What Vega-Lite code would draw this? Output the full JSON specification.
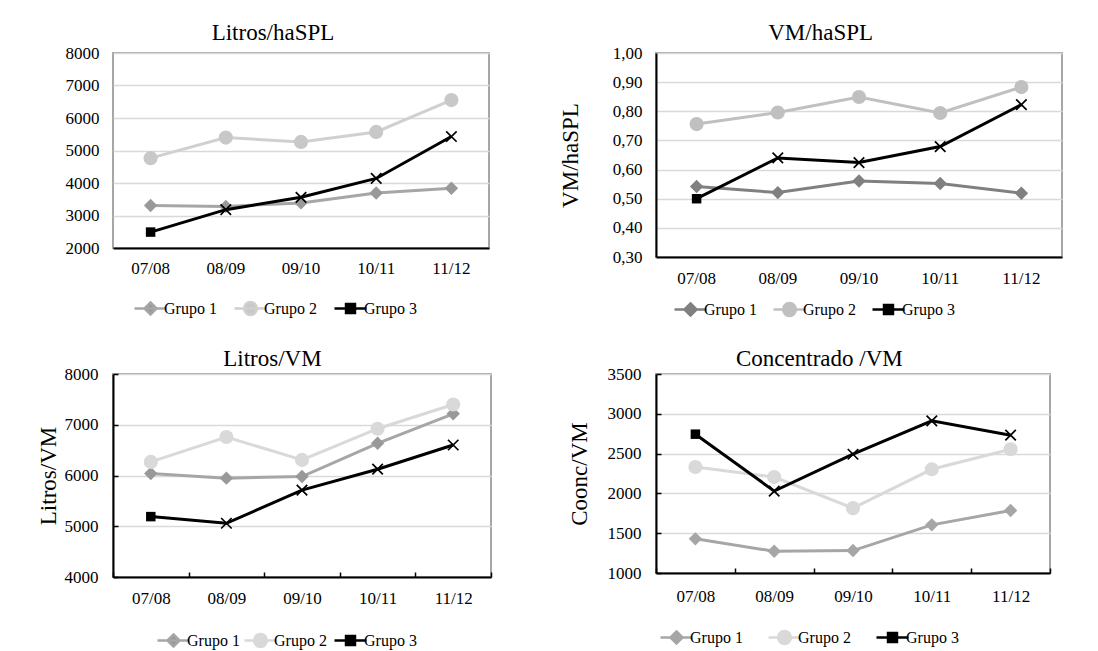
{
  "$schema": "https://vega.github.io/schema/vega-lite/v6.json",
  "background": "white",
  "padding": {"left": 36, "top": 21, "right": 5, "bottom": 5},
  "datasets": {
    "p1": [
      {"year": "07/08", "group": "Grupo 1", "value": 3306},
      {"year": "08/09", "group": "Grupo 1", "value": 3280},
      {"year": "09/10", "group": "Grupo 1", "value": 3388},
      {"year": "10/11", "group": "Grupo 1", "value": 3694},
      {"year": "11/12", "group": "Grupo 1", "value": 3837},
      {"year": "07/08", "group": "Grupo 2", "value": 4765},
      {"year": "08/09", "group": "Grupo 2", "value": 5398},
      {"year": "09/10", "group": "Grupo 2", "value": 5265},
      {"year": "10/11", "group": "Grupo 2", "value": 5571},
      {"year": "11/12", "group": "Grupo 2", "value": 6551},
      {"year": "07/08", "group": "Grupo 3", "value": 2490},
      {"year": "08/09", "group": "Grupo 3", "value": 3180},
      {"year": "09/10", "group": "Grupo 3", "value": 3560},
      {"year": "10/11", "group": "Grupo 3", "value": 4140},
      {"year": "11/12", "group": "Grupo 3", "value": 5430}
    ],
    "p2": [
      {"year": "07/08", "group": "Grupo 1", "value": 0.542},
      {"year": "08/09", "group": "Grupo 1", "value": 0.521},
      {"year": "09/10", "group": "Grupo 1", "value": 0.561},
      {"year": "10/11", "group": "Grupo 1", "value": 0.552},
      {"year": "11/12", "group": "Grupo 1", "value": 0.519},
      {"year": "07/08", "group": "Grupo 2", "value": 0.756},
      {"year": "08/09", "group": "Grupo 2", "value": 0.796},
      {"year": "09/10", "group": "Grupo 2", "value": 0.849},
      {"year": "10/11", "group": "Grupo 2", "value": 0.794},
      {"year": "11/12", "group": "Grupo 2", "value": 0.883},
      {"year": "07/08", "group": "Grupo 3", "value": 0.500},
      {"year": "08/09", "group": "Grupo 3", "value": 0.640},
      {"year": "09/10", "group": "Grupo 3", "value": 0.624},
      {"year": "10/11", "group": "Grupo 3", "value": 0.679},
      {"year": "11/12", "group": "Grupo 3", "value": 0.823}
    ],
    "p3": [
      {"year": "07/08", "group": "Grupo 1", "value": 6039},
      {"year": "08/09", "group": "Grupo 1", "value": 5948},
      {"year": "09/10", "group": "Grupo 1", "value": 5980},
      {"year": "10/11", "group": "Grupo 1", "value": 6634},
      {"year": "11/12", "group": "Grupo 1", "value": 7216},
      {"year": "07/08", "group": "Grupo 2", "value": 6268},
      {"year": "08/09", "group": "Grupo 2", "value": 6758},
      {"year": "09/10", "group": "Grupo 2", "value": 6307},
      {"year": "10/11", "group": "Grupo 2", "value": 6922},
      {"year": "11/12", "group": "Grupo 2", "value": 7399},
      {"year": "07/08", "group": "Grupo 3", "value": 5190},
      {"year": "08/09", "group": "Grupo 3", "value": 5059},
      {"year": "09/10", "group": "Grupo 3", "value": 5712},
      {"year": "10/11", "group": "Grupo 3", "value": 6124},
      {"year": "11/12", "group": "Grupo 3", "value": 6601}
    ],
    "p4": [
      {"year": "07/08", "group": "Grupo 1", "value": 1429},
      {"year": "08/09", "group": "Grupo 1", "value": 1273},
      {"year": "09/10", "group": "Grupo 1", "value": 1282},
      {"year": "10/11", "group": "Grupo 1", "value": 1605},
      {"year": "11/12", "group": "Grupo 1", "value": 1786},
      {"year": "07/08", "group": "Grupo 2", "value": 2332},
      {"year": "08/09", "group": "Grupo 2", "value": 2206},
      {"year": "09/10", "group": "Grupo 2", "value": 1815},
      {"year": "10/11", "group": "Grupo 2", "value": 2303},
      {"year": "11/12", "group": "Grupo 2", "value": 2555},
      {"year": "07/08", "group": "Grupo 3", "value": 2744},
      {"year": "08/09", "group": "Grupo 3", "value": 2029},
      {"year": "09/10", "group": "Grupo 3", "value": 2492},
      {"year": "10/11", "group": "Grupo 3", "value": 2912},
      {"year": "11/12", "group": "Grupo 3", "value": 2731}
    ]
  },
  "columns": 2,
  "spacing": {"row": 117, "column": 165},
  "bounds": "flush",
  "align": "each",
  "resolve": {"scale": {"color": "independent", "x": "independent", "y": "independent"}, "legend": {"color": "independent"}, "axis": {"x": "independent", "y": "independent"}},
  "concat": [
    {
      "width": 376, "height": 195,
      "title": {"text": "Litros/haSPL", "offset": -1, "dx": -4},
      "data": {"name": "p1"},
      "resolve": {"scale": {"color": "independent"}, "legend": {"color": "independent"}},
      "encoding": {
        "x": {"field": "year", "type": "ordinal", "scale": {"type": "band", "paddingInner": 0, "paddingOuter": 0},
              "axis": {"title": null, "ticks": false, "labelAngle": 0, "labelPadding": 12, "grid": false}},
        "y": {"field": "value", "type": "quantitative", "scale": {"domain": [2000, 8000], "nice": false, "zero": false},
              "axis": {"title": null, "values": [2000, 3000, 4000, 5000, 6000, 7000, 8000], "format": "d", "ticks": false, "domain": false, "labelPadding": 14, "grid": true}}
      },
      "layer": [
        {"transform": [{"filter": "datum.group === 'Grupo 1'"}], "mark": {"type": "line", "strokeWidth": 3},
         "encoding": {"color": {"field": "group", "type": "nominal", "scale": {"range": ["#a6a6a6"]},
           "legend": {"orient": "none", "legendX": 20, "legendY": 238, "title": null, "padding": 0, "labelFont": "Liberation Serif", "labelFontSize": 16, "labelColor": "#000000", "labelOffset": -4, "symbolSize": 1024, "symbolStrokeWidth": 2.5, "symbolType": "M-1,0H1M0,-0.38L0.38,0L0,0.38L-0.38,0Z", "symbolFillColor": "#999999", "symbolStrokeColor": "#a6a6a6"}}}},
        {"transform": [{"filter": "datum.group === 'Grupo 1'"}], "mark": {"type": "point", "shape": "diamond", "filled": true, "size": 180, "color": "#999999", "opacity": 1}},
        {"transform": [{"filter": "datum.group === 'Grupo 2'"}], "mark": {"type": "line", "strokeWidth": 3},
         "encoding": {"color": {"field": "group", "type": "nominal", "scale": {"range": ["#d0d0d0"]},
           "legend": {"orient": "none", "legendX": 120, "legendY": 238, "title": null, "padding": 0, "labelFont": "Liberation Serif", "labelFontSize": 16, "labelColor": "#000000", "labelOffset": -4, "symbolSize": 1024, "symbolStrokeWidth": 2.5, "symbolType": "M-1,0H1M-0.4,0A0.4,0.4,0,1,0,0.4,0A0.4,0.4,0,1,0,-0.4,0Z", "symbolFillColor": "#c8c8c8", "symbolStrokeColor": "#d0d0d0"}}}},
        {"transform": [{"filter": "datum.group === 'Grupo 2'"}], "mark": {"type": "point", "shape": "circle", "filled": true, "size": 200, "color": "#c8c8c8", "opacity": 1}},
        {"transform": [{"filter": "datum.group === 'Grupo 3'"}], "mark": {"type": "line", "strokeWidth": 3},
         "encoding": {"color": {"field": "group", "type": "nominal", "scale": {"range": ["#000000"]},
           "legend": {"orient": "none", "legendX": 220, "legendY": 238, "title": null, "padding": 0, "labelFont": "Liberation Serif", "labelFontSize": 16, "labelColor": "#000000", "labelOffset": -4, "symbolSize": 1024, "symbolStrokeWidth": 2.5, "symbolType": "M-1,0H1M-0.28,-0.28H0.28V0.28H-0.28Z", "symbolFillColor": "#000000", "symbolStrokeColor": "#000000"}}}},
        {"transform": [{"filter": "datum.group === 'Grupo 3' && datum.year !== '07/08'"}], "mark": {"type": "point", "shape": "M-1,-1L1,1M-1,1L1,-1", "filled": false, "stroke": "#000000", "strokeWidth": 1.7, "size": 110, "opacity": 1}},
        {"transform": [{"filter": "datum.group === 'Grupo 3' && datum.year === '07/08'"}], "mark": {"type": "point", "shape": "square", "filled": true, "size": 90, "color": "#000000", "opacity": 1}}
      ]
    },
    {
      "width": 406, "height": 204,
      "title": {"text": "VM/haSPL", "offset": -1, "dx": 10},
      "data": {"name": "p2"},
      "resolve": {"scale": {"color": "independent"}, "legend": {"color": "independent"}},
      "encoding": {
        "x": {"field": "year", "type": "ordinal", "scale": {"type": "band", "paddingInner": 0, "paddingOuter": 0},
              "axis": {"title": null, "ticks": false, "labelAngle": 0, "labelPadding": 13, "grid": false}},
        "y": {"field": "value", "type": "quantitative", "scale": {"domain": [0.3, 1.0], "nice": false, "zero": false},
              "axis": {"title": "VM/haSPL", "titlePadding": 30, "values": [0.3, 0.4, 0.5, 0.6, 0.7, 0.8, 0.9, 1.0], "labelExpr": "replace(format(datum.value, '.2f'), '.', ',')", "ticks": false, "domain": true, "labelPadding": 14, "grid": true}}
      },
      "layer": [
        {"transform": [{"filter": "datum.group === 'Grupo 1'"}], "mark": {"type": "line", "strokeWidth": 3},
         "encoding": {"color": {"field": "group", "type": "nominal", "scale": {"range": ["#808080"]},
           "legend": {"orient": "none", "legendX": 17, "legendY": 239, "title": null, "padding": 0, "labelFont": "Liberation Serif", "labelFontSize": 16, "labelColor": "#000000", "labelOffset": -4, "symbolSize": 1024, "symbolStrokeWidth": 2.5, "symbolType": "M-1,0H1M0,-0.38L0.38,0L0,0.38L-0.38,0Z", "symbolFillColor": "#808080", "symbolStrokeColor": "#808080"}}}},
        {"transform": [{"filter": "datum.group === 'Grupo 1'"}], "mark": {"type": "point", "shape": "diamond", "filled": true, "size": 180, "color": "#808080", "opacity": 1}},
        {"transform": [{"filter": "datum.group === 'Grupo 2'"}], "mark": {"type": "line", "strokeWidth": 3},
         "encoding": {"color": {"field": "group", "type": "nominal", "scale": {"range": ["#c0c0c0"]},
           "legend": {"orient": "none", "legendX": 116, "legendY": 239, "title": null, "padding": 0, "labelFont": "Liberation Serif", "labelFontSize": 16, "labelColor": "#000000", "labelOffset": -4, "symbolSize": 1024, "symbolStrokeWidth": 2.5, "symbolType": "M-1,0H1M-0.4,0A0.4,0.4,0,1,0,0.4,0A0.4,0.4,0,1,0,-0.4,0Z", "symbolFillColor": "#c0c0c0", "symbolStrokeColor": "#c0c0c0"}}}},
        {"transform": [{"filter": "datum.group === 'Grupo 2'"}], "mark": {"type": "point", "shape": "circle", "filled": true, "size": 200, "color": "#c0c0c0", "opacity": 1}},
        {"transform": [{"filter": "datum.group === 'Grupo 3'"}], "mark": {"type": "line", "strokeWidth": 3},
         "encoding": {"color": {"field": "group", "type": "nominal", "scale": {"range": ["#000000"]},
           "legend": {"orient": "none", "legendX": 215, "legendY": 239, "title": null, "padding": 0, "labelFont": "Liberation Serif", "labelFontSize": 16, "labelColor": "#000000", "labelOffset": -4, "symbolSize": 1024, "symbolStrokeWidth": 2.5, "symbolType": "M-1,0H1M-0.28,-0.28H0.28V0.28H-0.28Z", "symbolFillColor": "#000000", "symbolStrokeColor": "#000000"}}}},
        {"transform": [{"filter": "datum.group === 'Grupo 3' && datum.year !== '07/08'"}], "mark": {"type": "point", "shape": "M-1,-1L1,1M-1,1L1,-1", "filled": false, "stroke": "#000000", "strokeWidth": 1.7, "size": 110, "opacity": 1}},
        {"transform": [{"filter": "datum.group === 'Grupo 3' && datum.year === '07/08'"}], "mark": {"type": "point", "shape": "square", "filled": true, "size": 90, "color": "#000000", "opacity": 1}}
      ]
    },
    {
      "width": 378, "height": 203,
      "title": {"text": "Litros/VM", "offset": -6, "dx": 8},
      "data": {"name": "p3"},
      "resolve": {"scale": {"color": "independent"}, "legend": {"color": "independent"}},
      "encoding": {
        "x": {"field": "year", "type": "ordinal", "scale": {"type": "band", "paddingInner": 0, "paddingOuter": 0},
              "axis": {"title": null, "ticks": true, "tickBand": "extent", "tickSize": -5, "tickWidth": 1.5, "tickColor": "#000000", "labelAngle": 0, "labelPadding": 18, "grid": false}},
        "y": {"field": "value", "type": "quantitative", "scale": {"domain": [4000, 8000], "nice": false, "zero": false},
              "axis": {"title": "Litros/VM", "titlePadding": 4, "values": [4000, 5000, 6000, 7000, 8000], "format": "d", "ticks": true, "tickSize": -5, "tickWidth": 1.5, "tickColor": "#000000", "domain": true, "labelPadding": 20, "grid": true}}
      },
      "layer": [
        {"transform": [{"filter": "datum.group === 'Grupo 1'"}], "mark": {"type": "line", "strokeWidth": 3},
         "encoding": {"color": {"field": "group", "type": "nominal", "scale": {"range": ["#a6a6a6"]},
           "legend": {"orient": "none", "legendX": 43, "legendY": 249, "title": null, "padding": 0, "labelFont": "Liberation Serif", "labelFontSize": 16, "labelColor": "#000000", "labelOffset": -4, "symbolSize": 1024, "symbolStrokeWidth": 2.5, "symbolType": "M-1,0H1M0,-0.38L0.38,0L0,0.38L-0.38,0Z", "symbolFillColor": "#999999", "symbolStrokeColor": "#a6a6a6"}}}},
        {"transform": [{"filter": "datum.group === 'Grupo 1'"}], "mark": {"type": "point", "shape": "diamond", "filled": true, "size": 180, "color": "#999999", "opacity": 1}},
        {"transform": [{"filter": "datum.group === 'Grupo 2'"}], "mark": {"type": "line", "strokeWidth": 3},
         "encoding": {"color": {"field": "group", "type": "nominal", "scale": {"range": ["#d9d9d9"]},
           "legend": {"orient": "none", "legendX": 130, "legendY": 249, "title": null, "padding": 0, "labelFont": "Liberation Serif", "labelFontSize": 16, "labelColor": "#000000", "labelOffset": -4, "symbolSize": 1024, "symbolStrokeWidth": 2.5, "symbolType": "M-1,0H1M-0.4,0A0.4,0.4,0,1,0,0.4,0A0.4,0.4,0,1,0,-0.4,0Z", "symbolFillColor": "#d9d9d9", "symbolStrokeColor": "#d9d9d9"}}}},
        {"transform": [{"filter": "datum.group === 'Grupo 2'"}], "mark": {"type": "point", "shape": "circle", "filled": true, "size": 200, "color": "#d9d9d9", "opacity": 1}},
        {"transform": [{"filter": "datum.group === 'Grupo 3'"}], "mark": {"type": "line", "strokeWidth": 3},
         "encoding": {"color": {"field": "group", "type": "nominal", "scale": {"range": ["#000000"]},
           "legend": {"orient": "none", "legendX": 220, "legendY": 249, "title": null, "padding": 0, "labelFont": "Liberation Serif", "labelFontSize": 16, "labelColor": "#000000", "labelOffset": -4, "symbolSize": 1024, "symbolStrokeWidth": 2.5, "symbolType": "M-1,0H1M-0.28,-0.28H0.28V0.28H-0.28Z", "symbolFillColor": "#000000", "symbolStrokeColor": "#000000"}}}},
        {"transform": [{"filter": "datum.group === 'Grupo 3' && datum.year !== '07/08'"}], "mark": {"type": "point", "shape": "M-1,-1L1,1M-1,1L1,-1", "filled": false, "stroke": "#000000", "strokeWidth": 1.7, "size": 110, "opacity": 1}},
        {"transform": [{"filter": "datum.group === 'Grupo 3' && datum.year === '07/08'"}], "mark": {"type": "point", "shape": "square", "filled": true, "size": 90, "color": "#000000", "opacity": 1}}
      ]
    },
    {
      "width": 394, "height": 199,
      "title": {"text": "Concentrado /VM", "offset": -6, "dx": 10},
      "data": {"name": "p4"},
      "resolve": {"scale": {"color": "independent"}, "legend": {"color": "independent"}},
      "encoding": {
        "x": {"field": "year", "type": "ordinal", "scale": {"type": "band", "paddingInner": 0, "paddingOuter": 0},
              "axis": {"title": null, "ticks": true, "tickBand": "extent", "tickSize": -5, "tickWidth": 1.5, "tickColor": "#000000", "labelAngle": 0, "labelPadding": 20, "grid": false}},
        "y": {"field": "value", "type": "quantitative", "scale": {"domain": [1000, 3500], "nice": false, "zero": false},
              "axis": {"title": "Coonc/VM", "titlePadding": 16, "values": [1000, 1500, 2000, 2500, 3000, 3500], "format": "d", "ticks": true, "tickSize": -5, "tickWidth": 1.5, "tickColor": "#000000", "domain": true, "labelPadding": 20, "grid": true}}
      },
      "layer": [
        {"transform": [{"filter": "datum.group === 'Grupo 1'"}], "mark": {"type": "line", "strokeWidth": 3},
         "encoding": {"color": {"field": "group", "type": "nominal", "scale": {"range": ["#a6a6a6"]},
           "legend": {"orient": "none", "legendX": 3, "legendY": 246, "title": null, "padding": 0, "labelFont": "Liberation Serif", "labelFontSize": 16, "labelColor": "#000000", "labelOffset": -4, "symbolSize": 1024, "symbolStrokeWidth": 2.5, "symbolType": "M-1,0H1M0,-0.38L0.38,0L0,0.38L-0.38,0Z", "symbolFillColor": "#a6a6a6", "symbolStrokeColor": "#a6a6a6"}}}},
        {"transform": [{"filter": "datum.group === 'Grupo 1'"}], "mark": {"type": "point", "shape": "diamond", "filled": true, "size": 180, "color": "#a6a6a6", "opacity": 1}},
        {"transform": [{"filter": "datum.group === 'Grupo 2'"}], "mark": {"type": "line", "strokeWidth": 3},
         "encoding": {"color": {"field": "group", "type": "nominal", "scale": {"range": ["#d9d9d9"]},
           "legend": {"orient": "none", "legendX": 111, "legendY": 246, "title": null, "padding": 0, "labelFont": "Liberation Serif", "labelFontSize": 16, "labelColor": "#000000", "labelOffset": -4, "symbolSize": 1024, "symbolStrokeWidth": 2.5, "symbolType": "M-1,0H1M-0.4,0A0.4,0.4,0,1,0,0.4,0A0.4,0.4,0,1,0,-0.4,0Z", "symbolFillColor": "#d9d9d9", "symbolStrokeColor": "#d9d9d9"}}}},
        {"transform": [{"filter": "datum.group === 'Grupo 2'"}], "mark": {"type": "point", "shape": "circle", "filled": true, "size": 200, "color": "#d9d9d9", "opacity": 1}},
        {"transform": [{"filter": "datum.group === 'Grupo 3'"}], "mark": {"type": "line", "strokeWidth": 3},
         "encoding": {"color": {"field": "group", "type": "nominal", "scale": {"range": ["#000000"]},
           "legend": {"orient": "none", "legendX": 219, "legendY": 246, "title": null, "padding": 0, "labelFont": "Liberation Serif", "labelFontSize": 16, "labelColor": "#000000", "labelOffset": -4, "symbolSize": 1024, "symbolStrokeWidth": 2.5, "symbolType": "M-1,0H1M-0.28,-0.28H0.28V0.28H-0.28Z", "symbolFillColor": "#000000", "symbolStrokeColor": "#000000"}}}},
        {"transform": [{"filter": "datum.group === 'Grupo 3' && datum.year !== '07/08'"}], "mark": {"type": "point", "shape": "M-1,-1L1,1M-1,1L1,-1", "filled": false, "stroke": "#000000", "strokeWidth": 1.7, "size": 110, "opacity": 1}},
        {"transform": [{"filter": "datum.group === 'Grupo 3' && datum.year === '07/08'"}], "mark": {"type": "point", "shape": "square", "filled": true, "size": 90, "color": "#000000", "opacity": 1}}
      ]
    }
  ],
  "config": {
    "font": "Liberation Serif",
    "view": {"stroke": "#a6a6a6", "strokeWidth": 2},
    "axis": {"gridColor": "#d9d9d9", "gridWidth": 1.5, "domainColor": "#000000", "domainWidth": 2,
             "labelColor": "#000000", "labelFont": "Liberation Serif", "labelFontSize": 17,
             "titleFont": "Liberation Serif", "titleFontSize": 23, "titleFontWeight": "normal", "titleColor": "#000000"},
    "title": {"font": "Liberation Serif", "fontSize": 23, "fontWeight": "normal", "color": "#000000", "frame": "bounds", "anchor": "middle"}
  }
}
